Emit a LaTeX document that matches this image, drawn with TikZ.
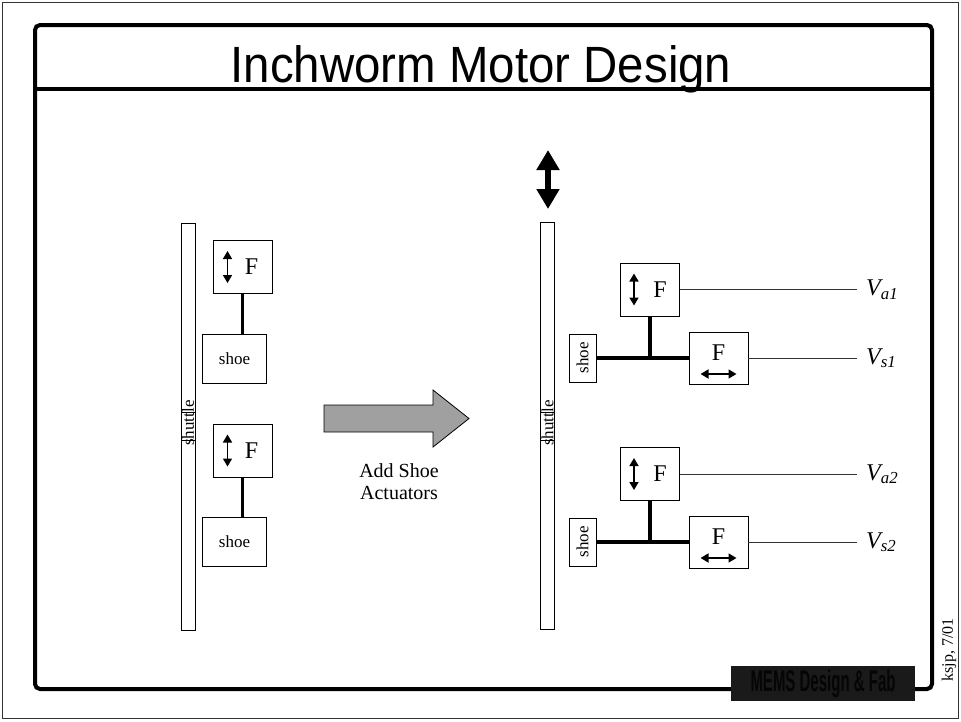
\documentclass[tikz,border=0pt]{standalone}
\usepackage{fontspec}
\setmainfont{Liberation Serif}
\newfontfamily\titlefont[FakeStretch=0.93]{Liberation Sans}
\newfontfamily\logofont[FakeStretch=0.5]{Liberation Sans}
\usetikzlibrary{positioning,arrows.meta,calc}
\definecolor{ink}{HTML}{000000}
\definecolor{wire}{HTML}{333333}
\definecolor{arrowgray}{HTML}{A0A0A0}
\definecolor{logobg}{HTML}{1A1A1A}
\definecolor{logotext}{HTML}{050505}
\tikzset{
  shuttlebar/.style={draw=ink, line width=0.8pt, fill=white, minimum width=14pt,
    minimum height=407pt, inner sep=0pt},
  shuttletag/.style={draw=ink, line width=0.8pt, fill=white, minimum width=14pt,
    minimum height=28pt, inner sep=0pt},
  shuttletext/.style={rotate=90, font=\fontsize{17pt}{20pt}\selectfont, inner sep=0pt},
  fbox/.style={draw=ink, line width=0.8pt, fill=white, minimum width=59pt,
    minimum height=53pt, inner sep=0pt},
  shoebox/.style={draw=ink, line width=0.8pt, fill=white, minimum width=64pt,
    minimum height=49pt, inner sep=0pt, font=\fontsize{17pt}{20pt}\selectfont},
  vshoe/.style={draw=ink, line width=0.8pt, fill=white, rotate=90, minimum width=48pt,
    minimum height=27pt, inner sep=0pt, font=\fontsize{17pt}{20pt}\selectfont},
  flab/.style={inner sep=0pt, font=\fontsize{24pt}{26pt}\selectfont},
  link/.style={line width=3.5pt, color=ink},
  wire/.style={line width=1pt, color=wire},
  sarr/.style={{Triangle[length=8pt,width=9pt]}-{Triangle[length=8pt,width=9pt]}, line width=1.5pt},
  bigarr/.style={{Triangle[length=20pt,width=22pt]}-{Triangle[length=20pt,width=22pt]}, line width=6.5pt},
  vlab/.style={anchor=base west, inner sep=0pt, font=\fontsize{24pt}{26pt}\selectfont\itshape},
}

\begin{document}
\begin{tikzpicture}[x=1pt, y=-1pt]
    \useasboundingbox (0,0) rectangle (961,721);
    % frames
    \draw[line width=1pt, wire] (2.5,2.5) rectangle (958.5,718.5);
    \draw[line width=4pt, rounded corners=5pt] (35,25) rectangle (932,689);
    \draw[line width=4pt] (35,89) -- (932,89);
    \node[font=\titlefont\fontsize{51pt}{56pt}\selectfont, anchor=base] (title) at (481,82) {Inchworm Motor Design};

    % left: shuttle with two shoes
    \node[shuttlebar] (lshut) at (188,426.5) {};
    \node[shuttletag] (ltag) at (188,426) {};
    \node[shuttletext] (ltext) at (188,423) {shuttle};
    \node[fbox] (lf1) at (242.5,267) {};
    \node[flab] (lf1F) at ([xshift=9pt]lf1.center) {F};
    \draw[sarr] ([xshift=-15pt,yshift=16pt]lf1.center) -- ([xshift=-15pt,yshift=-16pt]lf1.center);
    \node[shoebox] (lshoe1) at (234.5,358.5) {shoe};
    \draw[link] (lf1.south) -- (lf1.south |- lshoe1.north);
    \node[fbox] (lf2) at (242.5,450.5) {};
    \node[flab] (lf2F) at ([xshift=9pt]lf2.center) {F};
    \draw[sarr] ([xshift=-15pt,yshift=16pt]lf2.center) -- ([xshift=-15pt,yshift=-16pt]lf2.center);
    \node[shoebox] (lshoe2) at (234.5,542) {shoe};
    \draw[link] (lf2.south) -- (lf2.south |- lshoe2.north);

    % big gray arrow
    \filldraw[fill=arrowgray, draw=ink, line width=0.8pt]
      (324,405) -- (433,405) -- (433,390) -- (469,418.5) -- (433,447) -- (433,432) -- (324,432) -- cycle;
    \node[align=center, font=\fontsize{20pt}{22pt}\selectfont] (addtxt) at (399,482) {Add Shoe\\Actuators};

    % right: shuttle with shoe actuators
    \coordinate (mvtop) at (548,150);
    \coordinate (mvbot) at (548,209);
    \draw[bigarr] (mvtop) -- (mvbot);
    \node[shuttlebar] (rshut) at (547.5,425.5) {};
    \node[shuttletag] (rtag) at (547.5,426) {};
    \node[shuttletext] (rtext) at (547.5,423) {shuttle};

    \node[fbox] (rf1) at (650,289.5) {};
    \node[flab] (rf1F) at ([xshift=10pt]rf1.center) {F};
    \draw[sarr] ([xshift=-16pt,yshift=16pt]rf1.center) -- ([xshift=-16pt,yshift=-16pt]rf1.center);
    \node[vshoe] (rs1) at (582.5,358) {shoe};
    \node[fbox, minimum height=52pt] (rh1) at (718.5,358) {};
    \node[flab] (rh1F) at ([yshift=5pt]rh1.center) {F};
    \draw[sarr] ([xshift=-18pt,yshift=-16pt]rh1.center) -- ([xshift=18pt,yshift=-16pt]rh1.center);
    \draw[link] (rs1.south) -- (rh1.west);
    \draw[link] (rf1.south) -- (rf1.south |- rh1.west);
    \coordinate (va1) at (857,289.5);
    \coordinate (vs1) at (857,358);
    \draw[wire] (rf1.east) -- (va1);
    \draw[wire] (rh1.east) -- (vs1);
    \node[vlab] (va1lab) at ([xshift=9pt,yshift=-6pt]va1) {V\textsubscript{a1}};
    \node[vlab] (vs1lab) at ([xshift=9pt,yshift=-6pt]vs1) {V\textsubscript{s1}};

    \node[fbox] (rf2) at (650,474) {};
    \node[flab] (rf2F) at ([xshift=10pt]rf2.center) {F};
    \draw[sarr] ([xshift=-16pt,yshift=16pt]rf2.center) -- ([xshift=-16pt,yshift=-16pt]rf2.center);
    \node[vshoe] (rs2) at (582.5,542) {shoe};
    \node[fbox, minimum height=52pt] (rh2) at (718.5,542) {};
    \node[flab] (rh2F) at ([yshift=5pt]rh2.center) {F};
    \draw[sarr] ([xshift=-18pt,yshift=-16pt]rh2.center) -- ([xshift=18pt,yshift=-16pt]rh2.center);
    \draw[link] (rs2.south) -- (rh2.west);
    \draw[link] (rf2.south) -- (rf2.south |- rh2.west);
    \coordinate (va2) at (857,474);
    \coordinate (vs2) at (857,542);
    \draw[wire] (rf2.east) -- (va2);
    \draw[wire] (rh2.east) -- (vs2);
    \node[vlab] (va2lab) at ([xshift=9pt,yshift=-6pt]va2) {V\textsubscript{a2}};
    \node[vlab] (vs2lab) at ([xshift=9pt,yshift=-6pt]vs2) {V\textsubscript{s2}};

    % footer
    \node[fill=logobg, minimum width=184pt, minimum height=35pt, inner sep=0pt,
      font=\logofont\bfseries\fontsize{30pt}{32pt}\selectfont, text=logotext] (logo) at (823,683.5) {MEMS Design \& Fab};
    \node[rotate=90, font=\fontsize{16pt}{18pt}\selectfont] (stamp) at (949,650) {ksjp, 7/01};
\end{tikzpicture}
\end{document}
